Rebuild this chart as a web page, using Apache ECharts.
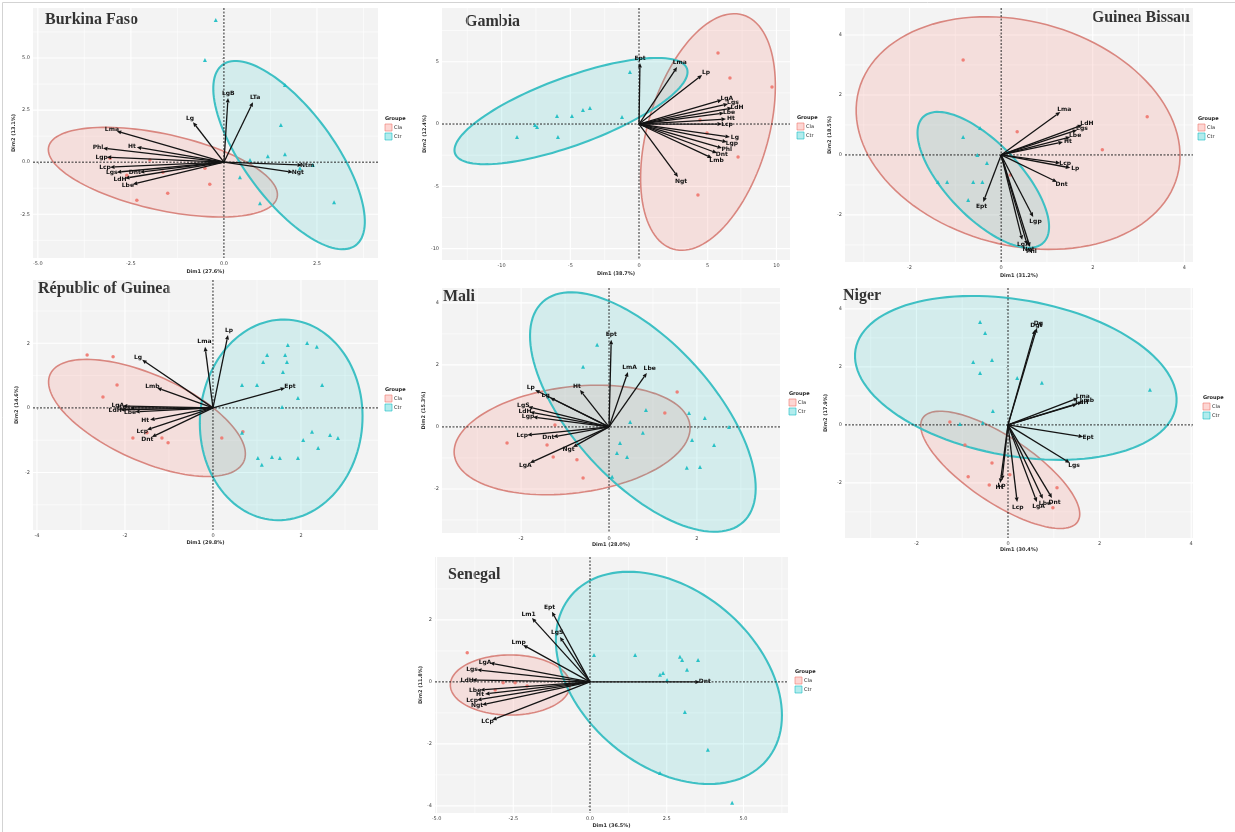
<!DOCTYPE html>
<html>
<head>
<meta charset="utf-8">
<script src="https://cdn.jsdelivr.net/npm/echarts@6/dist/echarts.min.js"></script>
<style>
html,body{margin:0;padding:0;background:#fff}
#chart{width:1235px;height:832px}
</style>
</head>
<body>
<div id="chart"></div>
<script>
// PCA biplots of seven countries: individuals (two groups), 95% ellipses, variable arrows.
const panelNames = ['Burkina Faso', 'Gambia', 'Guinea Bissau', 'Républic of Guinea', 'Mali', 'Niger', 'Senegal'];
const groupTitle = 'Groupe';
const groupNames = ['Cla', 'Ctr'];

// ---- Burkina Faso ----
const bfXTicks = [-5, -2.5, 0, 2.5];
const bfYTicks = [-2.5, 0, 2.5, 5];
const bfDims = ['Dim1 (27.6%)', 'Dim2 (13.1%)'];
const bfArrows = [[0.11, 3.08, 'LgB'], [0.78, 2.88, 'LTa'], [-0.83, 1.92, 'Lg'], [-2.88, 1.49, 'Lma'], [-2.34, 0.72, 'Ht'],
  [-3.25, 0.67, 'Phl'], [-3.15, 0.24, 'Lgp'], [-3.06, -0.24, 'Lcp'], [-2.88, -0.48, 'Lgs'], [-2.66, -0.77, 'LdH'],
  [-2.45, -1.06, 'Lbe'], [-2.26, -0.48, 'Dnt'], [2.1, -0.14, 'Ntm'], [1.85, -0.48, 'Ngt']];
const bfRed = [[-2.34, -1.83], [-1.51, -1.49], [-0.38, -1.06], [-1.64, -0.48], [-0.51, -0.29], [-2.61, -0.63], [-3.06, 0.19], [-1.99, 0.1]];
const bfCyan = [[-0.22, 6.83], [-0.51, 4.9], [1.64, 3.7], [1.53, 1.78], [1.64, 0.38], [1.18, 0.29], [2.39, -0.14], [2.96, -1.92],
  [0.97, -1.97], [0.43, -0.72], [2.04, -0.29], [0.7, 0.1]];
const bfEllRed = [-1.64, -0.48, 3.07, -1.21, -0.22, -1.78];
const bfEllCyan = [1.75, 0.34, 1.79, -4.33, -0.97, -1.29];

// ---- Gambia ----
const gmXTicks = [-10, -5, 0, 5, 10];
const gmYTicks = [-10, -5, 0, 5];
const gmDims = ['Dim1 (38.7%)', 'Dim2 (12.4%)'];
const gmArrows = [[0.07, 4.9, 'Ept'], [2.77, 4.57, 'Lma'], [4.59, 3.93, 'Lp'], [6.04, 1.93, 'LgA'], [6.48, 1.61, 'Lgs'],
  [6.77, 1.28, 'LdH'], [6.19, 0.88, 'Lbe'], [6.33, 0.4, 'Ht'], [6.04, 0, 'Lcp'], [6.62, -1.04, 'Lg'], [6.4, -1.44, 'Lgp'],
  [6.04, -1.93, 'Phl'], [5.68, -2.33, 'Dnt'], [5.31, -2.73, 'Lmb'], [2.84, -4.25, 'Ngt']];
const gmRed = [[5.75, 5.7], [6.62, 3.69], [4.95, -0.72], [7.21, -2.65], [4.29, -5.7], [9.68, 2.97], [4.44, 0.32]];
const gmCyan = [[-0.66, 4.17], [-1.24, 0.56], [-4.08, 1.12], [-4.88, 0.64], [-5.97, 0.64], [-7.42, -0.24], [-8.88, -1.04],
  [-5.9, -1.04], [-7.57, -0.08], [-3.57, 1.28]];
const gmEllRed = [5.02, -0.64, 2.55, 9.39, 4.19, -1.39];
const gmEllCyan = [-4.95, 1.04, 8.44, 3.41, 0.85, -2.56];

// ---- Guinea Bissau ----
const gbXTicks = [-2, 0, 2, 4];
const gbYTicks = [-2, 0, 2, 4];
const gbDims = ['Dim1 (31.2%)', 'Dim2 (18.5%)'];
const gbArrows = [[1.29, 1.43, 'Lma'], [1.77, 1.0, 'LdH'], [1.66, 0.83, 'Lgs'], [1.51, 0.6, 'Lbe'], [1.35, 0.43, 'Ht'],
  [1.29, -0.27, 'Lcp'], [1.51, -0.43, 'Lp'], [1.22, -0.9, 'Dnt'], [-0.39, -1.57, 'Ept'], [0.7, -2.07, 'Lgp'],
  [0.57, -3.0, 'Ngt'], [0.63, -3.07, 'Phl'], [0.46, -2.83, 'LgA']];
const gbRed = [[-0.83, 3.17], [3.19, 1.27], [0.35, 0.77], [2.21, 0.17], [0.2, -0.67]];
const gbCyan = [[-0.46, 0.9], [-0.83, 0.6], [-0.52, 0], [-0.31, -0.27], [-1.18, -0.9], [-1.38, -0.9], [-0.61, -0.9],
  [-0.41, -0.9], [-0.72, -1.5]];
const gbEllRed = [0.37, 0.73, 3.48, -1.42, -0.63, -3.61];
const gbEllCyan = [-0.39, -0.83, 1.31, -2.1, -0.59, -0.85];

// ---- Républic of Guinea ----
const rgXTicks = [-4, -2, 0, 2];
const rgYTicks = [-2, 0, 2];
const rgDims = ['Dim1 (29.8%)', 'Dim2 (14.6%)'];
const rgArrows = [[0.34, 2.26, 'Lp'], [-0.18, 1.89, 'Lma'], [-1.61, 1.49, 'Lg'], [-1.27, 0.62, 'Lmb'], [1.64, 0.62, 'Ept'],
  [-2.05, 0.06, 'LgA'], [-1.89, 0, 'Lgs'], [-2.11, -0.06, 'LdH'], [-1.77, -0.12, 'Lbe'], [-1.43, -0.37, 'Ht'],
  [-1.5, -0.68, 'Lcp'], [-1.39, -0.9, 'Dnt']];
const rgRed = [[-2.86, 1.64], [-2.27, 1.58], [-2.18, 0.71], [-2.5, 0.34], [-1.82, -0.93], [-1.16, -0.93], [-1.02, -1.08],
  [-1.5, -0.77], [0.68, -0.74], [0.2, -0.93]];
const rgCyan = [[1.7, 1.95], [2.14, 2.01], [2.36, 1.89], [1.23, 1.64], [1.64, 1.64], [1.14, 1.42], [1.68, 1.42], [1.59, 1.11],
  [0.66, 0.71], [1.0, 0.71], [2.48, 0.71], [1.93, 0.31], [1.57, 0.03], [2.25, -0.74], [2.66, -0.84], [2.84, -0.93],
  [2.05, -0.99], [2.39, -1.24], [1.02, -1.55], [1.34, -1.52], [1.52, -1.55], [1.93, -1.55], [1.11, -1.76], [0.66, -0.77]];
const rgEllRed = [-1.5, -0.31, 2.2, -1.35, -0.4, -1.21];
const rgEllCyan = [1.55, -0.37, 0.18, 3.1, 1.84, -0.2];

// ---- Mali ----
const mlXTicks = [-2, 0, 2];
const mlYTicks = [-2, 0, 2, 4];
const mlDims = ['Dim1 (28.0%)', 'Dim2 (15.3%)'];
const mlArrows = [[0.05, 2.81, 'Ept'], [0.43, 1.77, 'LmA'], [0.86, 1.74, 'Lbe'], [-0.66, 1.19, 'Ht'], [-1.68, 1.19, 'Lp'],
  [-1.34, 0.94, 'Lg'], [-1.84, 0.65, 'LgS'], [-1.8, 0.48, 'LdH'], [-1.73, 0.32, 'Lgp'], [-1.86, -0.26, 'Lcp'],
  [-1.27, -0.32, 'Dnt'], [-1.8, -1.16, 'LgA'], [-0.82, -0.65, 'Ngt']];
const mlRed = [[-2.32, -0.52], [-1.41, -0.58], [-1.27, -0.97], [-0.73, -1.06], [-0.59, -1.65], [1.55, 1.13], [1.27, 0.45], [-1.23, 0.06]];
const mlCyan = [[-0.27, 2.65], [-0.59, 1.94], [0.84, 0.55], [1.82, 0.45], [2.18, 0.29], [0.48, 0.16], [0.77, -0.19], [0.25, -0.52],
  [0.18, -0.84], [0.41, -0.97], [1.89, -0.42], [2.39, -0.58], [1.77, -1.32], [2.07, -1.29], [2.73, 0], [0.07, -1.61]];
const mlEllRed = [-0.84, -0.42, 2.68, 0.48, 0.15, -1.7];
const mlEllCyan = [0.77, 0.48, 2.28, -3.55, -1.18, -1.52];

// ---- Niger ----
const neXTicks = [-2, 0, 2, 4];
const neYTicks = [-2, 0, 2, 4];
const neDims = ['Dim1 (30.4%)', 'Dim2 (17.9%)'];
const neArrows = [[0.63, 3.34, 'Dg'], [0.59, 3.28, 'Dgt'], [1.53, 0.93, 'Lma'], [1.62, 0.79, 'Lmb'], [1.51, 0.72, 'LdH'],
  [1.64, -0.41, 'Ept'], [1.35, -1.31, 'Lgs'], [-0.17, -2.0, 'Ht'], [-0.13, -1.9, 'Lp'], [0.2, -2.66, 'Lcp'],
  [0.63, -2.66, 'LgA'], [0.76, -2.55, 'Lbe'], [0.96, -2.52, 'Dnt']];
const neRed = [[-0.94, -0.69], [-0.35, -1.31], [-0.87, -1.79], [-0.41, -2.07], [0.04, -1.72], [1.07, -2.17], [0.98, -2.86], [-1.27, 0.1]];
const neCyan = [[-0.61, 3.55], [-0.5, 3.17], [-0.76, 2.17], [-0.35, 2.24], [-0.61, 1.79], [0.2, 1.62], [0.74, 1.45], [3.1, 1.21],
  [-0.33, 0.48], [-0.55, 0.07], [-1.05, 0.03]];
const neEllRed = [-0.17, -1.55, 1.69, -1.79, -0.4, -0.94];
const neEllCyan = [0.17, 1.62, 3.5, -0.98, -0.29, -2.65];

// ---- Senegal ----
const snXTicks = [-5, -2.5, 0, 2.5, 5];
const snYTicks = [-4, -2, 0, 2];
const snDims = ['Dim1 (36.5%)', 'Dim2 (11.8%)'];
const snArrows = [[-1.89, 2.06, 'Lm1'], [-1.24, 2.26, 'Ept'], [-0.98, 1.45, 'LgS'], [-2.18, 1.19, 'Lmp'], [-3.26, 0.61, 'LgA'],
  [-3.68, 0.39, 'Lgs'], [-3.84, 0.06, 'LdH'], [-3.58, -0.26, 'Lbe'], [-3.42, -0.39, 'Ht'], [-3.68, -0.58, 'Lcp'],
  [-3.52, -0.74, 'Ngt'], [-3.19, -1.23, 'LCp'], [3.58, 0, 'Dnt']];
const snRed = [[-4.0, 0.94], [-2.83, -0.03], [-2.44, -0.03], [-2.05, -0.13], [-3.09, -0.26]];
const snCyan = [[1.47, 0.87], [2.93, 0.81], [3.0, 0.71], [3.52, 0.71], [3.16, 0.39], [2.28, 0.23], [2.38, 0.29], [2.51, 0.06],
  [3.09, -0.97], [3.84, -2.19], [2.28, -2.94], [4.63, -3.9], [0.13, 0.87]];
const snEllRed = [-2.6, -0.1, 1.95, 0, 0, -0.97];
const snEllCyan = [2.57, 0.13, 3.19, -2.65, -1.84, -2.17];

// Panel contents
const panelData = [
  { xt: bfXTicks, yt: bfYTicks, dims: bfDims, arrows: bfArrows, red: bfRed, cyan: bfCyan, ells: [bfEllRed, bfEllCyan] },
  { xt: gmXTicks, yt: gmYTicks, dims: gmDims, arrows: gmArrows, red: gmRed, cyan: gmCyan, ells: [gmEllRed, gmEllCyan] },
  { xt: gbXTicks, yt: gbYTicks, dims: gbDims, arrows: gbArrows, red: gbRed, cyan: gbCyan, ells: [gbEllRed, gbEllCyan] },
  { xt: rgXTicks, yt: rgYTicks, dims: rgDims, arrows: rgArrows, red: rgRed, cyan: rgCyan, ells: [rgEllRed, rgEllCyan] },
  { xt: mlXTicks, yt: mlYTicks, dims: mlDims, arrows: mlArrows, red: mlRed, cyan: mlCyan, ells: [mlEllRed, mlEllCyan] },
  { xt: neXTicks, yt: neYTicks, dims: neDims, arrows: neArrows, red: neRed, cyan: neCyan, ells: [neEllRed, neEllCyan] },
  { xt: snXTicks, yt: snYTicks, dims: snDims, arrows: snArrows, red: snRed, cyan: snCyan, ells: [snEllRed, snEllCyan] }
];

// Panel layout: grid box [left, top, width, height], axis ranges, label decimals, title and legend anchors
const panelLayout = [
  { box: [33, 8, 345, 250], xr: [-5.13, 4.14], yr: [-4.6, 7.4], dec: [1, 1], gapX: 11, gapY: 14, title: [45, 20, 'left'], legend: [385, 119] },
  { box: [442, 8, 348, 252], xr: [-14.34, 10.99], yr: [-10.91, 9.31], dec: [0, 0], gapX: 11, gapY: 15, title: [465, 22, 'left'], legend: [797, 118] },
  { box: [845, 8, 348, 254], xr: [-3.41, 4.19], yr: [-3.57, 4.9], dec: [0, 0], gapX: 11, gapY: 13, title: [1190, 18, 'right'], legend: [1198, 119] },
  { box: [33, 280, 345, 250], xr: [-4.09, 3.75], yr: [-3.78, 3.96], dec: [0, 0], gapX: 10, gapY: 14, title: [38, 289, 'left'], legend: [385, 390] },
  { box: [442, 288, 338, 245], xr: [-3.8, 3.89], yr: [-3.42, 4.48], dec: [0, 0], gapX: 8, gapY: 16, title: [443, 297, 'left'], legend: [789, 394] },
  { box: [845, 288, 348, 250], xr: [-3.56, 4.04], yr: [-3.9, 4.72], dec: [0, 0], gapX: 9, gapY: 17, title: [843, 296, 'left'], legend: [1203, 398] },
  { box: [435, 557, 353, 256], xr: [-5.05, 6.45], yr: [-4.23, 4.03], dec: [1, 0], gapX: 10, gapY: 10, title: [448, 575, 'left'], legend: [795, 672] }
];

const RED = '#ef766d';
const CYAN = '#16bdc2';
const ELL_STYLE = [
  { fill: 'rgba(248,118,109,0.17)', stroke: '#d9867f', lw: 1.6 },
  { fill: 'rgba(0,191,196,0.13)', stroke: '#3ec0c4', lw: 2.1 }
];
const SMALL_FONT = 'DejaVu Sans';

function midTicks(ticks, range) {
  const out = [];
  const step = ticks.length > 1 ? ticks[1] - ticks[0] : 1;
  const all = [ticks[0] - step].concat(ticks, [ticks[ticks.length - 1] + step]);
  for (let i = 0; i < all.length - 1; i++) {
    const m = (all[i] + all[i + 1]) / 2;
    if (m > range[0] && m < range[1]) out.push(m);
  }
  return out;
}

const grids = [], xAxes = [], yAxes = [], series = [], graphics = [];

panelData.forEach((pd, i) => {
  const L = panelLayout[i];
  grids.push({
    left: L.box[0], top: L.box[1], width: L.box[2], height: L.box[3],
    show: true, backgroundColor: '#f3f3f3', borderWidth: 0, outerBoundsMode: 'none'
  });
  const small = { fontSize: 5, color: '#444', fontFamily: SMALL_FONT };
  xAxes.push({
    gridIndex: i, type: 'value', min: L.xr[0], max: L.xr[1],
    axisLine: { show: false }, splitLine: { show: false },
    axisTick: { show: true, customValues: pd.xt, length: 2, lineStyle: { color: '#555', width: 0.8 } },
    axisLabel: Object.assign({ customValues: pd.xt, margin: 3, formatter: v => Number(v).toFixed(L.dec[0]) }, small),
    name: pd.dims[0], nameLocation: 'middle', nameGap: L.gapX,
    nameTextStyle: { fontSize: 5, fontWeight: 'bold', color: '#333', fontFamily: SMALL_FONT }
  });
  yAxes.push({
    gridIndex: i, type: 'value', min: L.yr[0], max: L.yr[1],
    axisLine: { show: false }, splitLine: { show: false },
    axisTick: { show: true, customValues: pd.yt, length: 2, lineStyle: { color: '#555', width: 0.8 } },
    axisLabel: Object.assign({ customValues: pd.yt, margin: 3, formatter: v => Number(v).toFixed(L.dec[1]) }, small),
    name: pd.dims[1], nameLocation: 'middle', nameGap: L.gapY, nameRotate: 90,
    nameTextStyle: { fontSize: 5, fontWeight: 'bold', color: '#333', fontFamily: SMALL_FONT }
  });

  // white major / minor grid lines
  const xMinor = midTicks(pd.xt, L.xr), yMinor = midTicks(pd.yt, L.yr);
  series.push({
    type: 'custom', xAxisIndex: i, yAxisIndex: i, silent: true, z: 1, clip: true,
    data: [[0, 0]],
    renderItem: (params, api) => {
      const cs = params.coordSys;
      const kids = [];
      const vline = (v, w) => {
        const x = api.coord([v, 0])[0];
        kids.push({ type: 'line', shape: { x1: x, y1: cs.y, x2: x, y2: cs.y + cs.height }, style: { stroke: '#ffffff', lineWidth: w } });
      };
      const hline = (v, w) => {
        const y = api.coord([0, v])[1];
        kids.push({ type: 'line', shape: { x1: cs.x, y1: y, x2: cs.x + cs.width, y2: y }, style: { stroke: '#ffffff', lineWidth: w } });
      };
      xMinor.forEach(v => vline(v, 0.6)); yMinor.forEach(v => hline(v, 0.6));
      pd.xt.forEach(v => vline(v, 1.1)); pd.yt.forEach(v => hline(v, 1.1));
      return { type: 'group', children: kids };
    }
  });

  // confidence ellipses
  series.push({
    type: 'custom', xAxisIndex: i, yAxisIndex: i, silent: true, z: 2, clip: true,
    data: pd.ells,
    renderItem: (params, api) => {
      const e = pd.ells[params.dataIndex];
      const pts = [];
      for (let k = 0; k < 120; k++) {
        const t = k / 120 * Math.PI * 2;
        pts.push(api.coord([e[0] + e[2] * Math.cos(t) + e[4] * Math.sin(t), e[1] + e[3] * Math.cos(t) + e[5] * Math.sin(t)]));
      }
      const st = ELL_STYLE[params.dataIndex];
      return { type: 'polygon', shape: { points: pts }, style: { fill: st.fill, stroke: st.stroke, lineWidth: st.lw } };
    }
  });

  // dashed reference lines through the origin
  series.push({
    type: 'custom', xAxisIndex: i, yAxisIndex: i, silent: true, z: 3, clip: true,
    data: [[0, 0]],
    renderItem: (params, api) => {
      const cs = params.coordSys;
      const o = api.coord([0, 0]);
      const st = { stroke: '#222', lineWidth: 1, lineDash: [2, 1.5] };
      return {
        type: 'group', children: [
          { type: 'line', shape: { x1: cs.x, y1: o[1], x2: cs.x + cs.width, y2: o[1] }, style: st },
          { type: 'line', shape: { x1: o[0], y1: cs.y, x2: o[0], y2: cs.y + cs.height }, style: st }
        ]
      };
    }
  });

  // individuals
  series.push({
    type: 'scatter', xAxisIndex: i, yAxisIndex: i, z: 4, silent: true,
    symbol: 'circle', symbolSize: 3.5, itemStyle: { color: RED, opacity: 0.9 }, data: pd.red
  });
  series.push({
    type: 'scatter', xAxisIndex: i, yAxisIndex: i, z: 4, silent: true,
    symbol: 'triangle', symbolSize: 4, itemStyle: { color: CYAN, opacity: 0.9 }, data: pd.cyan
  });

  // variable arrows
  series.push({
    type: 'custom', xAxisIndex: i, yAxisIndex: i, silent: true, z: 5, clip: false,
    data: pd.arrows.map(a => [a[0], a[1]]),
    renderItem: (params, api) => {
      const a = pd.arrows[params.dataIndex];
      const o = api.coord([0, 0]), p = api.coord([a[0], a[1]]);
      const dx = p[0] - o[0], dy = p[1] - o[1];
      const len = Math.hypot(dx, dy) || 1;
      const ux = dx / len, uy = dy / len;
      const h = 4.5, w = 2;
      const b = [p[0] - ux * h, p[1] - uy * h];
      return {
        type: 'group', children: [
          { type: 'line', shape: { x1: o[0], y1: o[1], x2: b[0], y2: b[1] }, style: { stroke: '#141414', lineWidth: 1.3 } },
          { type: 'polygon', shape: { points: [p, [b[0] - uy * w, b[1] + ux * w], [b[0] + uy * w, b[1] - ux * w]] }, style: { fill: '#141414' } },
          {
            type: 'text', x: p[0] + ux * 5, y: p[1] + uy * 5,
            style: { text: a[2], fontSize: 6, fontWeight: 'bold', fontFamily: SMALL_FONT, fill: '#111', align: 'center', verticalAlign: 'middle' }
          }
        ]
      };
    }
  });

  // panel title
  graphics.push({
    type: 'text', x: L.title[0], y: L.title[1],
    style: { text: panelNames[i], font: 'bold 16px "Liberation Serif"', fill: '#333', align: L.title[2], verticalAlign: 'middle' }
  });

  // group legend
  const lx = L.legend[0], ly = L.legend[1];
  graphics.push({
    type: 'group', x: lx, y: ly, children: [
      { type: 'text', x: 0, y: 0, style: { text: groupTitle, fontSize: 5, fontWeight: 'bold', fontFamily: SMALL_FONT, fill: '#222', verticalAlign: 'middle' } },
      { type: 'rect', shape: { x: 0, y: 5, width: 7, height: 7 }, style: { fill: 'rgba(248,118,109,0.3)', stroke: RED, lineWidth: 0.6 } },
      { type: 'text', x: 9, y: 8.5, style: { text: groupNames[0], fontSize: 5, fontFamily: SMALL_FONT, fill: '#222', verticalAlign: 'middle' } },
      { type: 'rect', shape: { x: 0, y: 14, width: 7, height: 7 }, style: { fill: 'rgba(0,191,196,0.3)', stroke: CYAN, lineWidth: 0.6 } },
      { type: 'text', x: 9, y: 17.5, style: { text: groupNames[1], fontSize: 5, fontFamily: SMALL_FONT, fill: '#222', verticalAlign: 'middle' } }
    ]
  });
});

// outer frame of the figure
graphics.push({
  type: 'rect', shape: { x: 2.5, y: 2.5, width: 1240, height: 840 },
  style: { fill: 'none', stroke: '#d3d3d3', lineWidth: 1 }, z: 100
});

const chart = echarts.init(document.getElementById('chart'), null, { renderer: 'canvas' });
chart.setOption({
  backgroundColor: '#ffffff',
  animation: false,
  grid: grids,
  xAxis: xAxes,
  yAxis: yAxes,
  series: series,
  graphic: graphics
});
</script>
</body>
</html>
